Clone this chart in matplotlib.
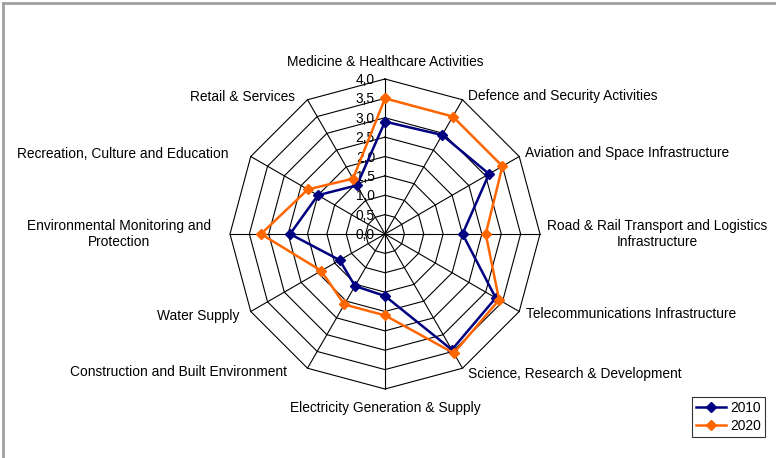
import numpy as np
import matplotlib
matplotlib.use("Agg")
import matplotlib.pyplot as plt
from matplotlib.lines import Line2D

# ---------------------------------------------------------------------------
# Data
# ---------------------------------------------------------------------------

categories = [
    "Medicine & Healthcare Activities",
    "Defence and Security Activities",
    "Aviation and Space Infrastructure",
    "Road & Rail Transport and Logistics\nInfrastructure",
    "Telecommunications Infrastructure",
    "Science, Research & Development",
    "Electricity Generation & Supply",
    "Construction and Built Environment",
    "Water Supply",
    "Environmental Monitoring and\nProtection",
    "Recreation, Culture and Education",
    "Retail & Services",
]

values_2010 = [2.9, 2.95, 3.1, 2.0, 3.3, 3.45, 1.6, 1.55, 1.35, 2.45, 2.0, 1.45]
values_2020 = [3.5, 3.5, 3.5, 2.6, 3.4, 3.55, 2.1, 2.1, 1.9, 3.2, 2.3, 1.65]

ring_levels = [0.0, 0.5, 1.0, 1.5, 2.0, 2.5, 3.0, 3.5, 4.0]
ring_labels = ["0,0", "0,5", "1,0", "1,5", "2,0", "2,5", "3,0", "3,5", "4,0"]

series_names = ["2010", "2020"]

# ---------------------------------------------------------------------------
# Layout / style
# ---------------------------------------------------------------------------

W, H = 776, 458
CX, CY, R = 385, 234, 155          # centre and outer radius in pixels
COL_2010 = "#000080"
COL_2020 = "#FF6600"
FONT = "Liberation Sans"
FS = 9.9

# label offsets (pixels) from the outer vertex, with alignment
label_layout = [
    (0, 17, "center", "center"),
    (5, 4, "left", "center"),
    (6, 3, "left", "center"),
    (7, 0, "left", "center"),
    (7, -3, "left", "center"),
    (6, -6, "left", "center"),
    (0, -19, "center", "center"),
    (-21, -4, "right", "center"),
    (-11, -4, "right", "center"),
    (-19, 0, "right", "center"),
    (-22, 3, "right", "center"),
    (-12, 3, "right", "center"),
]

plt.rcParams["font.family"] = [FONT, "DejaVu Sans"]

fig = plt.figure(figsize=(W / 100, H / 100), dpi=100)
ax = fig.add_axes([(CX - R) / W, (H - CY - R) / H, 2 * R / W, 2 * R / H],
                  projection="polar")
ax.set_theta_zero_location("N")
ax.set_theta_direction(-1)
ax.set_ylim(0, 4.0)
ax.grid(False)
ax.set_xticks([])
ax.set_yticks([])
ax.spines["polar"].set_visible(False)
ax.patch.set_alpha(0)

n = len(categories)
angles = np.arange(n) * 2 * np.pi / n
closed = np.append(angles, angles[0])

# polygon rings and spokes
for lvl in ring_levels[1:]:
    ax.plot(closed, [lvl] * (n + 1), color="black", lw=0.8, zorder=1,
            clip_on=False)
for a in angles:
    ax.plot([a, a], [0, ring_levels[-1]], color="black", lw=0.8, zorder=1,
            clip_on=False)

# ring value labels
for lvl, txt in zip(ring_levels, ring_labels):
    ax.annotate(txt, xy=(0, lvl), xytext=(-10, -1), textcoords="offset pixels",
                ha="right", va="center", fontsize=FS, zorder=2)

# series
for vals, col, name in [(values_2010, COL_2010, series_names[0]),
                        (values_2020, COL_2020, series_names[1])]:
    ax.plot(closed, vals + vals[:1], color=col, lw=1.8, marker="D",
            markersize=5, label=name, zorder=3, clip_on=False)

# category labels
for a, txt, (dx, dy, ha, va) in zip(angles, categories, label_layout):
    ax.annotate(txt, xy=(a, ring_levels[-1]), xytext=(dx, dy),
                textcoords="offset pixels", ha=ha, va=va,
                multialignment="center", fontsize=FS, annotation_clip=False)

# legend
leg = fig.legend(loc="lower left", bbox_to_anchor=(692 / W, (H - 437) / H),
                 fontsize=FS, frameon=True, fancybox=False, handlelength=2.2,
                 handletextpad=0.3, borderpad=0.3, labelspacing=0.3,
                 borderaxespad=0)
leg.get_frame().set_edgecolor("black")
leg.get_frame().set_linewidth(0.8)

# outer chart-area border (top and left visible)
fig.add_artist(Line2D([3 / W, 1], [1 - 3 / H, 1 - 3 / H], color="#a0a0a0",
                      lw=2, transform=fig.transFigure))
fig.add_artist(Line2D([3 / W, 3 / W], [0, 1 - 3 / H], color="#a0a0a0",
                      lw=2, transform=fig.transFigure))

fig.savefig("out.png", dpi=100)
